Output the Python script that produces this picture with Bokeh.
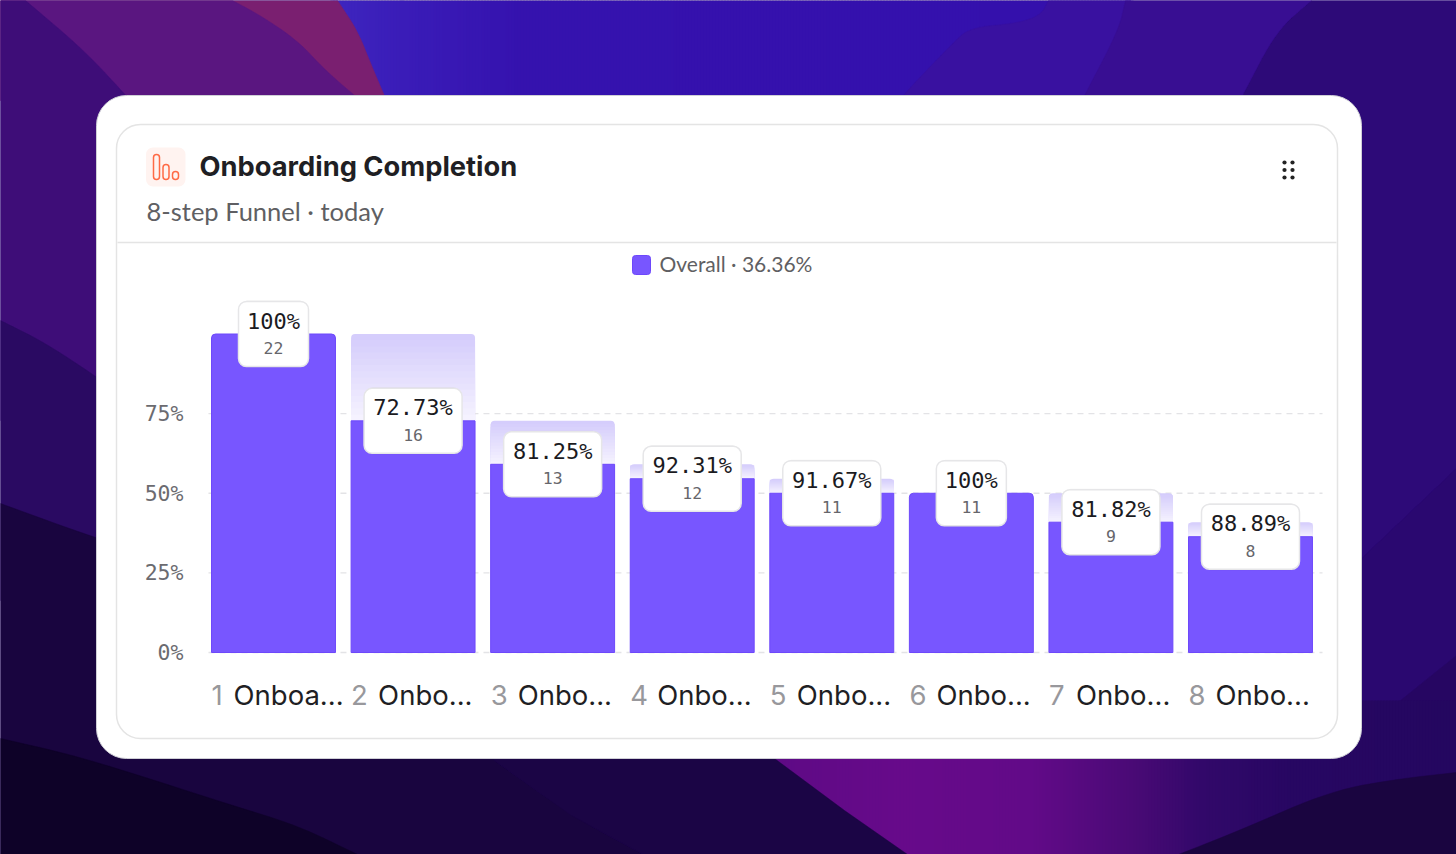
from bokeh.embed import file_html
from bokeh.resources import INLINE
from bokeh.core.properties import value
from bokeh.models import ColumnDataSource, Range1d, LinearAxis, FixedTicker
from bokeh.plotting import figure

# ---- chart data ----
steps = [1, 2, 3, 4, 5, 6, 7, 8]
step_names = ["Onboa...", "Onbo...", "Onbo...", "Onbo...", "Onbo...", "Onbo...", "Onbo...", "Onbo..."]
counts = [22, 16, 13, 12, 11, 11, 9, 8]
overall_pct = [100, 72.73, 59.09, 54.55, 50, 50, 40.91, 36.36]
step_conversion = ["100%", "72.73%", "81.25%", "92.31%", "91.67%", "100%", "81.82%", "88.89%"]
y_ticks = [0, 25, 50, 75]
y_tick_labels = ["0%", "25%", "50%", "75%"]
title = "Onboarding Completion"
subtitle = "8-step Funnel · today"
legend_label = "Overall · 36.36%"

# ---- page geometry ----
W, H = 1456, 854
Y0, PER = 652.0, 3.185     # pixel of 0 %, pixels per percent
X0, STEP = 273.0, 139.57   # pixel of first bar centre, pixels per step
MONO = value("DejaVu Sans Mono")
SANS = "Lato"
HEAD = "Inter"
BAR = "#7856ff"

p = figure(width=W, height=H, output_backend="svg", toolbar_location=None,
           x_axis_type=None, y_axis_type=None, min_border=0,
           x_range=Range1d(-X0 / STEP, (W - X0) / STEP),
           y_range=Range1d((Y0 - H) / PER, Y0 / PER))
p.styles = {"position": "absolute", "top": "0", "left": "0"}
p.outline_line_color = None
p.background_fill_color = "#2d0a78"
p.border_fill_color = "#2d0a78"
p.extra_x_ranges["px"] = Range1d(0, W)
p.extra_y_ranges["px"] = Range1d(H, 0)
PXR = dict(x_range_name="px", y_range_name="px")


def curve(pts, rounds=3):
    """Round a wallpaper boundary, keeping its two ends."""
    for _ in range(rounds):
        out = [pts[0]]
        for (a, b), (c, d) in zip(pts, pts[1:]):
            out += [(a * .75 + c * .25, b * .75 + d * .25), (a * .25 + c * .75, b * .25 + d * .75)]
        pts = out + [pts[-1]]
    return pts


def poly(pts, color):
    p.patch([a for a, _ in pts], [b for _, b in pts], fill_color=color, line_color=color, line_width=0.5, **PXR)


def sweep(stops, t, b, dx=3):
    """Horizontal colour sweep for the wallpaper."""
    ls, cs = [], []
    for (x0, c0), (x1, c1) in zip(stops, stops[1:]):
        c0 = [int(c0[i:i + 2], 16) for i in (1, 3, 5)]
        c1 = [int(c1[i:i + 2], 16) for i in (1, 3, 5)]
        for x in range(x0, x1, dx):
            f = (x - x0) / (x1 - x0)
            ls.append(x)
            cs.append("#%02x%02x%02x" % tuple(round(u + f * (v - u)) for u, v in zip(c0, c1)))
    p.quad(left=ls, right=[x + dx + 1 for x in ls], top=t, bottom=b, fill_color=cs, line_color=None, **PXR)


# ---- wallpaper ----
poly(curve([(1311, 0), (1276, 30), (1243, 93)]) + [(1243, 560), (1359, 560), (W, 468), (W, 0)], "#2d0a78")
poly([(1359, 560), (W, 468), (W, 655), (1359, 733)], "#2a0870")
poly([(1359, 733), (W, 655), (W, 780), (1359, 780)], "#260662")
sweep([(330, "#3e26bf"), (400, "#3a1cb8"), (520, "#3512ae"), (1130, "#3410ac")], 0, 100)
poly(curve([(1048, 0), (1040, 15), (1015, 23), (969, 27), (950, 45), (904, 93), (900, 100)]) + [(1130, 100), (1130, 0)], "#3911a0")
poly(curve([(1125, 0), (1118, 30), (1085, 93), (1082, 100)]) + [(1240, 100), (1243, 93)] + curve([(1243, 93), (1276, 30), (1311, 0)]), "#380e92")
poly([(0, 0)] + curve([(337, 0), (357, 30), (371, 65), (386, 100)]) + [(0, 100)], "#7a1f70")
poly([(0, 0)] + curve([(232, 0), (260, 15), (297, 40), (325, 70), (360, 100)]) + [(0, 100)], "#5a1680")
poly([(0, 0)] + curve([(25, 0), (84, 50), (130, 100)]) + [(130, 420), (0, 420)], "#3e0d78")
poly(curve([(0, 320), (50, 345), (130, 400)]) + [(130, 600), (0, 600)], "#2a0a62")
poly(curve([(0, 503), (96, 538), (200, 570)]) + [(494, 700)] + curve([(494, 760), (571, 815), (643, 854)]) + [(0, 854)], "#19053f")
poly(curve([(0, 738), (70, 754), (139, 775), (232, 805), (297, 825), (357, 854)]) + [(0, 854)], "#0e0228")
sweep([(770, "#5e0a85"), (900, "#670a8a"), (1030, "#620a88"), (1130, "#4a0a76"), (1200, "#32086a"),
       (1290, "#270762"), (W, "#240760")], 700, H)
poly([(494, 700), (780, 700), (774, 758), (844, 810), (907, 854), (643, 854), (571, 815), (494, 760)], "#1b0545")
poly(curve([(1178, 854), (1239, 830), (1331, 790), (1401, 778), (W, 772)]) + [(W, 854)], "#1a0540")

# ---- cards ----
p.quad(left=96, right=1361, top=95, bottom=758, fill_color="white", line_color="#cfcfd6", line_width=1,
       border_radius=30, **PXR)
p.quad(left=116, right=1337, top=124, bottom=738, fill_color="white", line_color="#e4e4e4", line_width=1.5,
       border_radius=24, **PXR)
p.segment(x0=[117], x1=[1336], y0=[242], y1=[242], line_color="#e4e4e4", line_width=1.5, **PXR)

# ---- header ----
p.quad(left=145.5, right=185, top=147, bottom=186, fill_color="#fff3f0", line_color=None, border_radius=7, **PXR)
p.quad(left=[153, 162.5, 172], right=[159, 168.5, 178], top=[154, 164, 171], bottom=[179, 179, 179],
       fill_color=None, line_color="#ff6a45", line_width=1.5, border_radius=3, **PXR)
p.text(x=[199], y=[166], text=[title], text_font=value(HEAD), text_font_style="bold", text_font_size="27.3px",
       text_color="#1f1f24", text_baseline="middle", **PXR)
p.text(x=[146], y=[210], text=[subtitle], text_font=value(SANS), text_font_size="25.5px",
       text_color="#5f5f63", text_baseline="middle", **PXR)
p.scatter(x=[1284, 1292] * 3, y=[162, 162, 169.5, 169.5, 177, 177], size=4.2, marker="circle",
          fill_color="#222222", line_color=None, **PXR)

# ---- legend ----
p.quad(left=632, right=650, top=255, bottom=274, fill_color=BAR, line_color="#6d48fb", border_radius=3, **PXR)
p.text(x=[659], y=[263], text=[legend_label], text_font=value(SANS), text_font_size="21px",
       text_color="#5f5f63", text_baseline="middle", **PXR)

# ---- plot ----
xs = list(range(len(steps)))
prev_pct = [overall_pct[0]] + overall_pct[:-1]

p.segment(x0=[-0.466] * 4, x1=[7.516] * 4, y0=y_ticks, y1=y_ticks, line_color="#e3e3e6", line_width=1.3,
          line_dash="6 5")

WIDTH = 0.888
GRAD = 14
for x, pv, cur in zip(xs, prev_pct, overall_pct):
    if pv <= cur:
        continue
    for k in range(GRAD):
        f = k / (GRAD - 1)
        col = "#%02x%02x%02x" % (int(213 + f * 32), int(205 + f * 37), int(252 + f * 3))
        p.vbar(x=[x], width=WIDTH, top=[pv - (pv - cur) * k / GRAD], bottom=[cur], fill_color=col, line_color=None,
               border_radius=(4, 4, 0, 0) if k == 0 else 0)

has_ghost = [pv > c for pv, c in zip(prev_pct, overall_pct)]
for flag, radius in ((True, 0), (False, (4, 4, 0, 0))):
    sel = [i for i in xs if has_ghost[i] is flag]
    p.vbar(x=sel, width=WIDTH, top=[overall_pct[i] for i in sel], bottom=0, fill_color=BAR, line_color="#6d48fb",
           line_width=1, border_radius=radius)

# value cards
box_w = [70 if s == "100%" else 98 for s in step_conversion]
cards = ColumnDataSource(dict(x=xs, y=overall_pct, w=box_w, top=step_conversion, sub=[str(c) for c in counts]))
p.rect(x="x", y="y", width="w", height=67, width_units="screen", height_units="screen", source=cards,
       fill_color="#000000", fill_alpha=0.06, line_color=None, border_radius=9)
p.rect(x="x", y="y", width="w", height=65, width_units="screen", height_units="screen", source=cards,
       fill_color="white", line_color="#e6e6e8", line_width=1.5, border_radius=8)
p.text(x="x", y="y", text="top", y_offset=-13, source=cards, text_font=MONO, text_font_size="22px",
       text_color="#1b1b1f", text_align="center", text_baseline="middle")
p.text(x="x", y="y", text="sub", y_offset=14, source=cards, text_font=MONO, text_font_size="16.5px",
       text_color="#66666b", text_align="center", text_baseline="middle")

# y axis
axis = LinearAxis(fixed_location=(195 - X0) / STEP, ticker=FixedTicker(ticks=y_ticks),
                  major_label_overrides=dict(zip(y_ticks, y_tick_labels)))
axis.axis_line_color = None
axis.major_tick_line_color = None
axis.minor_tick_line_color = None
axis.major_label_standoff = 6
axis.major_label_text_font = "DejaVu Sans Mono"
axis.major_label_text_font_size = "21.5px"
axis.major_label_text_color = "#6b6b70"
p.add_layout(axis, "left")

# x labels
label_y = [(Y0 - 694) / PER] * len(xs)
left_edges = [x - WIDTH / 2 for x in xs]
p.text(x=left_edges, y=label_y, text=[str(s) for s in steps], text_font=value(HEAD), text_font_size="27.5px",
       text_color="#98989c", text_baseline="middle")
p.text(x=left_edges, y=label_y, text=step_names, x_offset=[22 if s == 1 else 27 for s in steps],
       text_font=value(HEAD), text_font_size="27.5px", text_color="#1f1f24", text_baseline="middle")

open("out.html", "w").write(file_html(p, INLINE))
